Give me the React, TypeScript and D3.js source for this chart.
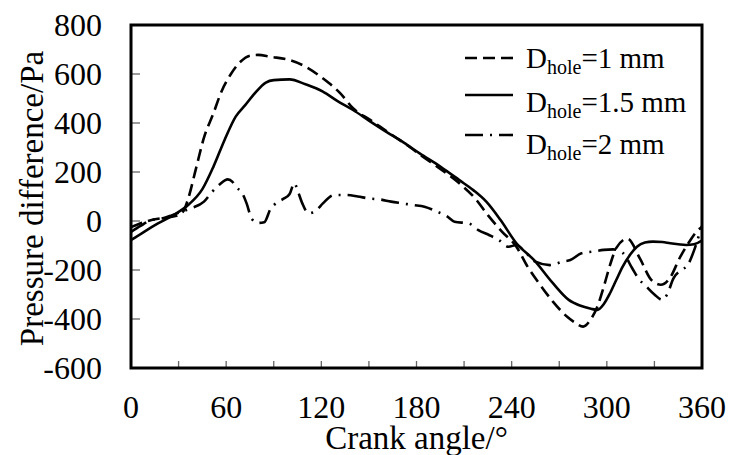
import React from "react";
import * as d3 from "d3";

const xTicks = [0, 60, 120, 180, 240, 300, 360];
const xMinorTicks = [30, 90, 150, 210, 270, 330];
const yTicks = [-600, -400, -200, 0, 200, 400, 600, 800];

const angle1 = [0, 5, 13, 20, 28, 33, 36, 41, 46, 52, 57, 63, 69, 75, 80, 88, 100, 110, 121, 132, 140, 151, 163, 174, 184, 193, 207, 217, 225, 234, 243, 250, 258, 266, 275, 280, 285, 290, 294, 298, 302, 306, 313, 321, 328, 334, 340, 346, 352, 357, 360];
const value1 = [-25, -12, 4, 12, 20, 40, 90, 215, 340, 440, 528, 600, 650, 675, 678, 670, 657, 630, 582, 521, 460, 412, 358, 310, 262, 222, 154, 92, 24, -44, -105, -186, -261, -329, -391, -415, -431, -400, -350, -270, -180, -110, -72, -155, -240, -260, -230, -150, -85, -40, -25];

const angle15 = [0, 8, 17, 27, 36, 45, 52, 59, 66, 72, 78, 85, 90, 100, 110, 121, 130, 140, 150, 161, 172, 182, 195, 207, 216, 224, 233, 243, 254, 266, 276, 283, 290, 294, 298, 302, 306, 310, 315, 319, 324, 329, 335, 340, 345, 350, 355, 360];
const value15 = [-78, -45, -10, 25, 65, 130, 222, 331, 426, 473, 521, 565, 575, 578, 558, 528, 490, 453, 410, 364, 320, 276, 222, 167, 125, 79, 4, -91, -159, -254, -322, -345, -358, -363, -340, -295, -240, -186, -135, -105, -88, -84, -86, -91, -95, -98, -95, -80];

const angle2 = [0, 6, 13, 20, 26, 32, 38, 46, 51, 56, 61, 64, 66, 70, 73, 76, 80, 84, 88, 92, 96, 100, 103, 105, 108, 112, 117, 121, 128, 136, 143, 150, 157, 164, 171, 178, 185, 193, 199, 204, 213, 219, 226, 232, 238, 243, 249, 255, 264, 272, 277, 284, 291, 298, 304, 310, 316, 320, 325, 330, 335, 338, 342, 347, 351, 355, 358, 360];
const value2 = [-45, -20, 4, 11, 24, 38, 52, 79, 118, 150, 170, 160, 140, 115, 70, 10, -8, -5, 50, 75, 90, 110, 155, 125, 72, 31, 45, 72, 106, 106, 100, 92, 88, 79, 72, 65, 58, 38, 20, -3, -10, -37, -58, -78, -105, -98, -130, -166, -180, -166, -159, -132, -125, -118, -116, -130, -193, -235, -268, -300, -322, -300, -234, -200, -180, -120, -60, -20];

const seriesNames = ["=1 mm", "=1.5 mm", "=2 mm"];

const W = 729;
const H = 455;
const L = 131, R = 702, T = 25, B = 368;
const FONT = "Liberation Serif";

export default function App() {
  const x = d3.scaleLinear().domain([0, 360]).range([L, R]);
  const y = d3.scaleLinear().domain([-600, 800]).range([B, T]);
  const line = d3
    .line<[number, number]>()
    .x((d) => x(d[0]))
    .y((d) => y(d[1]))
    .curve(d3.curveMonotoneX);

  const s1 = angle1.map((a, i) => [a, value1[i]] as [number, number]);
  const s15 = angle15.map((a, i) => [a, value15[i]] as [number, number]);
  const s2 = angle2.map((a, i) => [a, value2[i]] as [number, number]);

  const series = [
    { data: s1, dash: "12,6" },
    { data: s15, dash: "none" },
    { data: s2, dash: "18,7,2,7" },
  ];

  const legendLineY = [58, 95, 135];
  const legendTextY = [68, 111.5, 153.5];

  return (
    <svg
      width={W}
      height={H}
      fontFamily={FONT}
      style={{ position: "fixed", left: 0, top: 0, background: "#fff", fontFamily: FONT }}
    >
      <rect x={0} y={0} width={W} height={H} fill="#fff" />
      <defs>
        <clipPath id="plotClip">
          <rect x={L} y={T} width={R - L} height={B - T} />
        </clipPath>
      </defs>
      {yTicks.map((t) => (
        <line key={"yt" + t} x1={L} x2={L + 9} y1={y(t)} y2={y(t)} stroke="#666" strokeWidth={1.3} />
      ))}
      {[...xTicks, ...xMinorTicks].map((t) => (
        <line key={"xt" + t} x1={x(t)} x2={x(t)} y1={B} y2={B - 7} stroke="#666" strokeWidth={1.3} />
      ))}
      <g clipPath="url(#plotClip)">
        {series.map((s, i) => (
          <path
            key={i}
            d={line(s.data) || ""}
            fill="none"
            stroke="#000"
            strokeWidth={2.6}
            strokeDasharray={s.dash}
            strokeLinejoin="round"
          />
        ))}
      </g>
      <rect x={L} y={T} width={R - L} height={B - T} fill="none" stroke="#000" strokeWidth={3} />
      {yTicks.map((t) => (
        <text key={"yl" + t} x={102} y={y(t) + 10.5} textAnchor="end" fontSize={32} fill="#000" fontFamily={FONT}>
          {t}
        </text>
      ))}
      {xTicks.map((t) => (
        <text key={"xl" + t} x={x(t)} y={418} textAnchor="middle" fontSize={32} fill="#000" fontFamily={FONT}>
          {t}
        </text>
      ))}
      <text x={(L + R) / 2} y={449} textAnchor="middle" fontSize={33} fill="#000" fontFamily={FONT}>
        Crank angle/°
      </text>
      <text
        transform={`translate(43,${(T + B) / 2 + 2}) rotate(-90)`}
        textAnchor="middle"
        fontSize={33}
        fill="#000"
        fontFamily={FONT}
      >
        Pressure difference/Pa
      </text>
      {series.map((s, i) => (
        <g key={"lg" + i}>
          <line
            x1={465}
            x2={513}
            y1={legendLineY[i]}
            y2={legendLineY[i]}
            stroke="#000"
            strokeWidth={2.6}
            strokeDasharray={s.dash}
          />
          <text x={526} y={legendTextY[i]} fontSize={29} fill="#000" fontFamily={FONT}>
            D
            <tspan fontSize={20} dy={6}>hole</tspan>
            <tspan dy={-6}>{seriesNames[i]}</tspan>
          </text>
        </g>
      ))}
    </svg>
  );
}
